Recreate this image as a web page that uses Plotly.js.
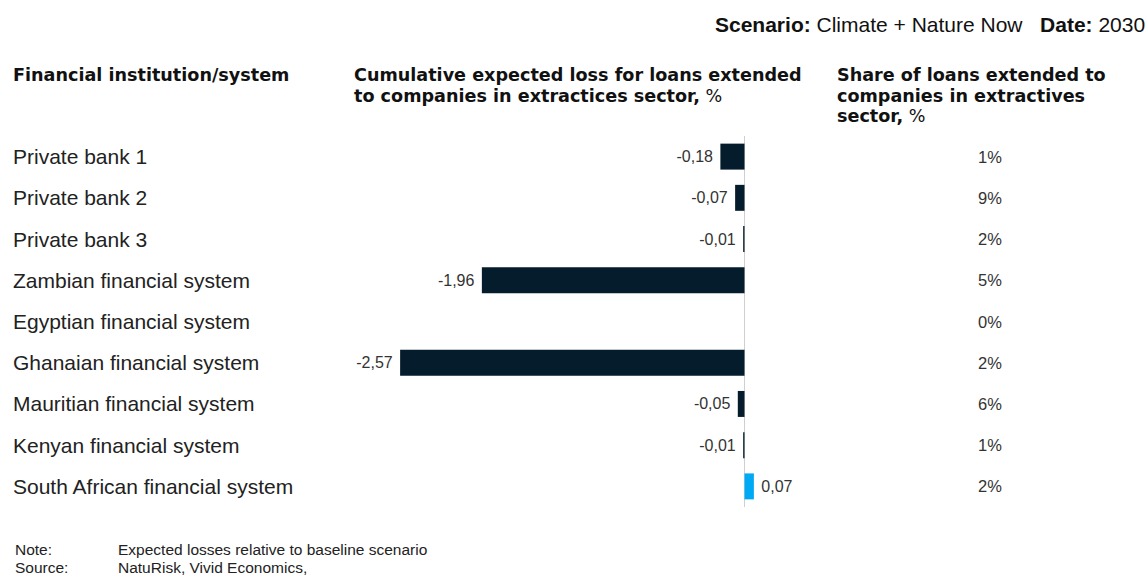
<!DOCTYPE html>
<html><head><meta charset="utf-8">
<script src="https://cdn.plot.ly/plotly-3.0.1.min.js"></script>
<style>body{margin:0;background:#fff}#chart{width:1148px;height:577px}</style>
</head><body><div id="chart"></div>
<script>
const categories = ["Private bank 1","Private bank 2","Private bank 3","Zambian financial system","Egyptian financial system","Ghanaian financial system","Mauritian financial system","Kenyan financial system","South African financial system"];
const expectedLoss = [-0.18,-0.07,-0.01,-1.96,null,-2.57,-0.05,-0.01,0.07];
const shareOfLoans = ["1%","9%","2%","5%","0%","2%","6%","1%","2%"];
const headerCol1 = ["Financial institution/system"];
const headerCol2 = ["Cumulative expected loss for loans extended","to companies in extractices sector, %"];
const headerCol3 = ["Share of loans extended to","companies in extractives","sector, %"];
const scenario = "Climate + Nature Now";
const date = "2030";
const noteText = "Expected losses relative to baseline scenario";
const sourceText = "NatuRisk, Vivid Economics,";

const W = 1148, H = 577;
const L = 340, R = 800, T = 136, B = 507;
const pw = R - L;
const px = v => (v - L) / pw;
const FONT = "Liberation Sans, Arial, sans-serif";
const HFONT = "DejaVu Sans, Liberation Sans, sans-serif";

const colors = expectedLoss.map(v => v !== null && v > 0 ? "#00A9F4" : "#051C2C");

const trace = {
  type: "bar", orientation: "h",
  y: categories, x: expectedLoss,
  marker: {color: colors},
  texttemplate: expectedLoss.map(v => v === null ? "" : (v < 0 ? "%{x:.2f}\u00a0" : "\u00a0%{x:.2f}")),
  textposition: "outside",
  constraintext: "none",
  cliponaxis: false,
  outsidetextfont: {family: FONT, size: 16, color: "#333"},
  hoverinfo: "none"
};

const bold = t => t.includes(", %") ? "<b>" + t.replace(", %", ",</b> %") : "<b>" + t + "</b>";
const ann = [];
categories.forEach((c, i) => {
  ann.push({xref: "paper", yref: "y", x: px(11), y: c, xanchor: "left", yanchor: "middle",
    text: c, showarrow: false, font: {family: FONT, size: 21, color: "#222"}});
  ann.push({xref: "paper", yref: "y", x: px(990), y: c, xanchor: "center", yanchor: "middle",
    text: shareOfLoans[i], showarrow: false, font: {family: FONT, size: 16.5, color: "#333"}});
});
const yp = y => 1 - (y - T) / (B - T);
const headerFont = {family: HFONT, size: 17.6, color: "#111"};
const LS = 20.5;
headerCol1.forEach((t, i) => ann.push({xref: "paper", yref: "paper", x: px(11), y: yp(75 + i * LS), xanchor: "left", yanchor: "middle", text: bold(t), showarrow: false, font: headerFont}));
headerCol2.forEach((t, i) => ann.push({xref: "paper", yref: "paper", x: px(352), y: yp(75 + i * LS), xanchor: "left", yanchor: "middle", text: bold(t), showarrow: false, font: headerFont}));
headerCol3.forEach((t, i) => ann.push({xref: "paper", yref: "paper", x: px(835), y: yp(75 + i * LS), xanchor: "left", yanchor: "middle", text: bold(t), showarrow: false, font: headerFont}));
ann.push({xref: "paper", yref: "paper", x: px(1147), y: yp(24), xanchor: "right", yanchor: "middle",
  text: "<b>Scenario:</b> " + scenario + "   <b>Date:</b> " + date, showarrow: false, font: {family: FONT, size: 21, color: "#111"}});
const nf = {family: FONT, size: 15.5, color: "#222"};
ann.push({xref: "paper", yref: "paper", x: px(13), y: yp(549), xanchor: "left", yanchor: "middle", text: "Note:", showarrow: false, font: nf});
ann.push({xref: "paper", yref: "paper", x: px(116), y: yp(549), xanchor: "left", yanchor: "middle", text: noteText, showarrow: false, font: nf});
ann.push({xref: "paper", yref: "paper", x: px(13), y: yp(567), xanchor: "left", yanchor: "middle", text: "Source:", showarrow: false, font: nf});
ann.push({xref: "paper", yref: "paper", x: px(116), y: yp(567), xanchor: "left", yanchor: "middle", text: sourceText, showarrow: false, font: nf});

const zeroPx = 744.5, scale = 134;
const layout = {
  width: W, height: H,
  margin: {l: L, r: W - R, t: T, b: H - B, pad: 0},
  paper_bgcolor: "#fff", plot_bgcolor: "#fff",
  separators: ", ",
  showlegend: false,
  bargap: 0.37,
  xaxis: {range: [-(zeroPx - L) / scale, (R - zeroPx) / scale], showgrid: false, zeroline: true,
    zerolinecolor: "#cfcfcf", zerolinewidth: 1, showticklabels: false, ticks: "", fixedrange: true},
  yaxis: {type: "category", range: [categories.length - 0.5, -0.5], showgrid: false, zeroline: false,
    showticklabels: false, ticks: "", fixedrange: true},
  annotations: ann
};
Plotly.newPlot("chart", [trace], layout, {displayModeBar: false, staticPlot: true});
</script></body></html>
